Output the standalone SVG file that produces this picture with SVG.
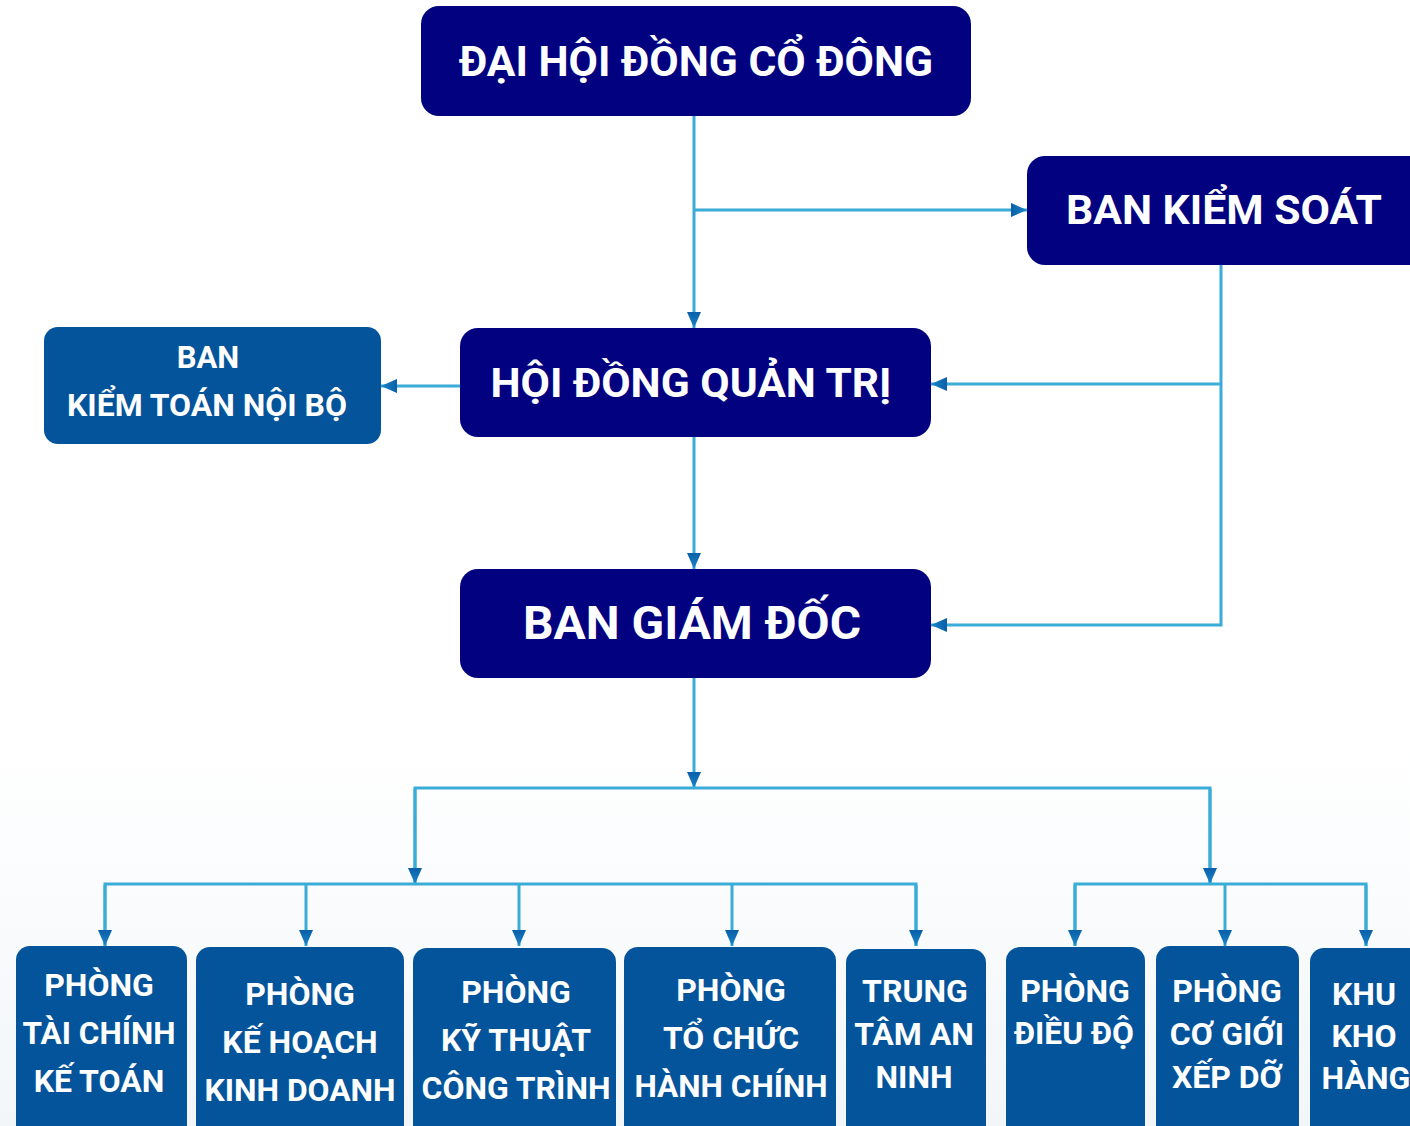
<svg xmlns="http://www.w3.org/2000/svg" width="1410" height="1126" viewBox="0 0 1410 1126">
<defs>
<linearGradient id="bg" x1="0" y1="0" x2="0" y2="1">
<stop offset="0" stop-color="#ffffff"/>
<stop offset="0.66" stop-color="#ffffff"/>
<stop offset="1" stop-color="#f2f6f9"/>
</linearGradient>
<linearGradient id="ah" x1="0" y1="0" x2="1" y2="0">
<stop offset="0" stop-color="#0a5fa8"/>
<stop offset="1" stop-color="#1a86c8"/>
</linearGradient>
<marker id="arr" markerUnits="userSpaceOnUse" markerWidth="16" markerHeight="14" refX="16" refY="7" orient="auto">
<path d="M0,0 L16,7 L0,14 z" fill="url(#ah)"/>
</marker>
<style>
.dark{fill:#020280}
.mid{fill:#03549b}
.t{font-family:Roboto,"Noto Sans",sans-serif;font-weight:bold;fill:#ffffff;text-anchor:middle}
.c{fill:none;stroke:#3aacd8;stroke-width:3}
</style>
</defs>
<rect x="0" y="0" width="1410" height="1126" fill="url(#bg)"/>
<g id="connectors">
<path class="c" d="M694,116 V328" marker-end="url(#arr)"/>
<path class="c" d="M694,210 H1027" marker-end="url(#arr)"/>
<path class="c" d="M1221,265 V625 H931" marker-end="url(#arr)"/>
<path class="c" d="M1221,384 H931" marker-end="url(#arr)"/>
<path class="c" d="M460,386 H381" marker-end="url(#arr)"/>
<path class="c" d="M694,437 V569" marker-end="url(#arr)"/>
<path class="c" d="M694,678 V788" marker-end="url(#arr)"/>
<path class="c" d="M415,884 V788 H1210 V884"/>
<path class="c" d="M415,789 V884" marker-end="url(#arr)"/>
<path class="c" d="M1210,789 V884" marker-end="url(#arr)"/>
<path class="c" d="M105,946 V884 H916 V946"/>
<path class="c" d="M105,885 V946" marker-end="url(#arr)"/>
<path class="c" d="M306,885 V946" marker-end="url(#arr)"/>
<path class="c" d="M519,885 V946" marker-end="url(#arr)"/>
<path class="c" d="M732,885 V946" marker-end="url(#arr)"/>
<path class="c" d="M916,885 V946" marker-end="url(#arr)"/>
<path class="c" d="M1075,946 V884 H1366 V946"/>
<path class="c" d="M1075,885 V946" marker-end="url(#arr)"/>
<path class="c" d="M1225,885 V946" marker-end="url(#arr)"/>
<path class="c" d="M1366,885 V946" marker-end="url(#arr)"/>
</g>
<g id="dhdcd">
<rect class="dark" x="421" y="6" width="550" height="110" rx="18"/>
<text class="t" x="696" y="76" font-size="42" textLength="474" lengthAdjust="spacingAndGlyphs">ĐẠI HỘI ĐỒNG CỔ ĐÔNG</text>
</g>
<g id="bks">
<rect class="dark" x="1027" y="156" width="400" height="109" rx="18"/>
<text class="t" x="1224" y="224" font-size="40" textLength="316" lengthAdjust="spacingAndGlyphs">BAN KIỂM SOÁT</text>
</g>
<g id="hdqt">
<rect class="dark" x="460" y="328" width="471" height="109" rx="18"/>
<text class="t" x="691" y="397" font-size="40" textLength="401" lengthAdjust="spacingAndGlyphs">HỘI ĐỒNG QUẢN TRỊ</text>
</g>
<g id="bgd">
<rect class="dark" x="460" y="569" width="471" height="109" rx="18"/>
<text class="t" x="692" y="639" font-size="46" textLength="338" lengthAdjust="spacingAndGlyphs">BAN GIÁM ĐỐC</text>
</g>
<g id="bktnb">
<rect class="mid" x="44" y="327" width="337" height="117" rx="14"/>
<text class="t" x="208" y="368" font-size="31">BAN</text>
<text class="t" x="207" y="416" font-size="31" textLength="280" lengthAdjust="spacingAndGlyphs">KIỂM TOÁN NỘI BỘ</text>
</g>
<g id="tckt">
<rect class="mid" x="16" y="946" width="171" height="200" rx="14"/>
<text class="t" x="99" y="996" font-size="32">PHÒNG</text>
<text class="t" x="99" y="1044" font-size="32" textLength="153" lengthAdjust="spacingAndGlyphs">TÀI CHÍNH</text>
<text class="t" x="99" y="1092" font-size="32">KẾ TOÁN</text>
</g>
<g id="khkd">
<rect class="mid" x="196" y="947" width="208" height="200" rx="14"/>
<text class="t" x="300" y="1005" font-size="32">PHÒNG</text>
<text class="t" x="300" y="1053" font-size="32">KẾ HOẠCH</text>
<text class="t" x="300" y="1101" font-size="32" textLength="191" lengthAdjust="spacingAndGlyphs">KINH DOANH</text>
</g>
<g id="ktct">
<rect class="mid" x="413" y="948" width="203" height="200" rx="14"/>
<text class="t" x="516" y="1003" font-size="32">PHÒNG</text>
<text class="t" x="516" y="1051" font-size="32" textLength="150" lengthAdjust="spacingAndGlyphs">KỸ THUẬT</text>
<text class="t" x="516" y="1099" font-size="32" textLength="189" lengthAdjust="spacingAndGlyphs">CÔNG TRÌNH</text>
</g>
<g id="tchc">
<rect class="mid" x="624" y="947" width="212" height="200" rx="14"/>
<text class="t" x="731" y="1001" font-size="32">PHÒNG</text>
<text class="t" x="731" y="1049" font-size="32" textLength="136" lengthAdjust="spacingAndGlyphs">TỔ CHỨC</text>
<text class="t" x="731" y="1097" font-size="32" textLength="193" lengthAdjust="spacingAndGlyphs">HÀNH CHÍNH</text>
</g>
<g id="ttan">
<rect class="mid" x="846" y="949" width="140" height="200" rx="14"/>
<text class="t" x="915" y="1002" font-size="32">TRUNG</text>
<text class="t" x="914" y="1045" font-size="32">TÂM AN</text>
<text class="t" x="914" y="1088" font-size="32">NINH</text>
</g>
<g id="dd">
<rect class="mid" x="1006" y="947" width="139" height="200" rx="14"/>
<text class="t" x="1075" y="1002" font-size="32">PHÒNG</text>
<text class="t" x="1074" y="1044" font-size="32" textLength="120" lengthAdjust="spacingAndGlyphs">ĐIỀU ĐỘ</text>
</g>
<g id="cgxd">
<rect class="mid" x="1156" y="946" width="143" height="200" rx="14"/>
<text class="t" x="1227" y="1002" font-size="32">PHÒNG</text>
<text class="t" x="1227" y="1045" font-size="32">CƠ GIỚI</text>
<text class="t" x="1227" y="1088" font-size="32">XẾP DỠ</text>
</g>
<g id="kkh">
<rect class="mid" x="1310" y="948" width="130" height="200" rx="14"/>
<text class="t" x="1364" y="1005" font-size="32">KHU</text>
<text class="t" x="1364" y="1047" font-size="32">KHO</text>
<text class="t" x="1366" y="1089" font-size="32">HÀNG</text>
</g>
</svg>
